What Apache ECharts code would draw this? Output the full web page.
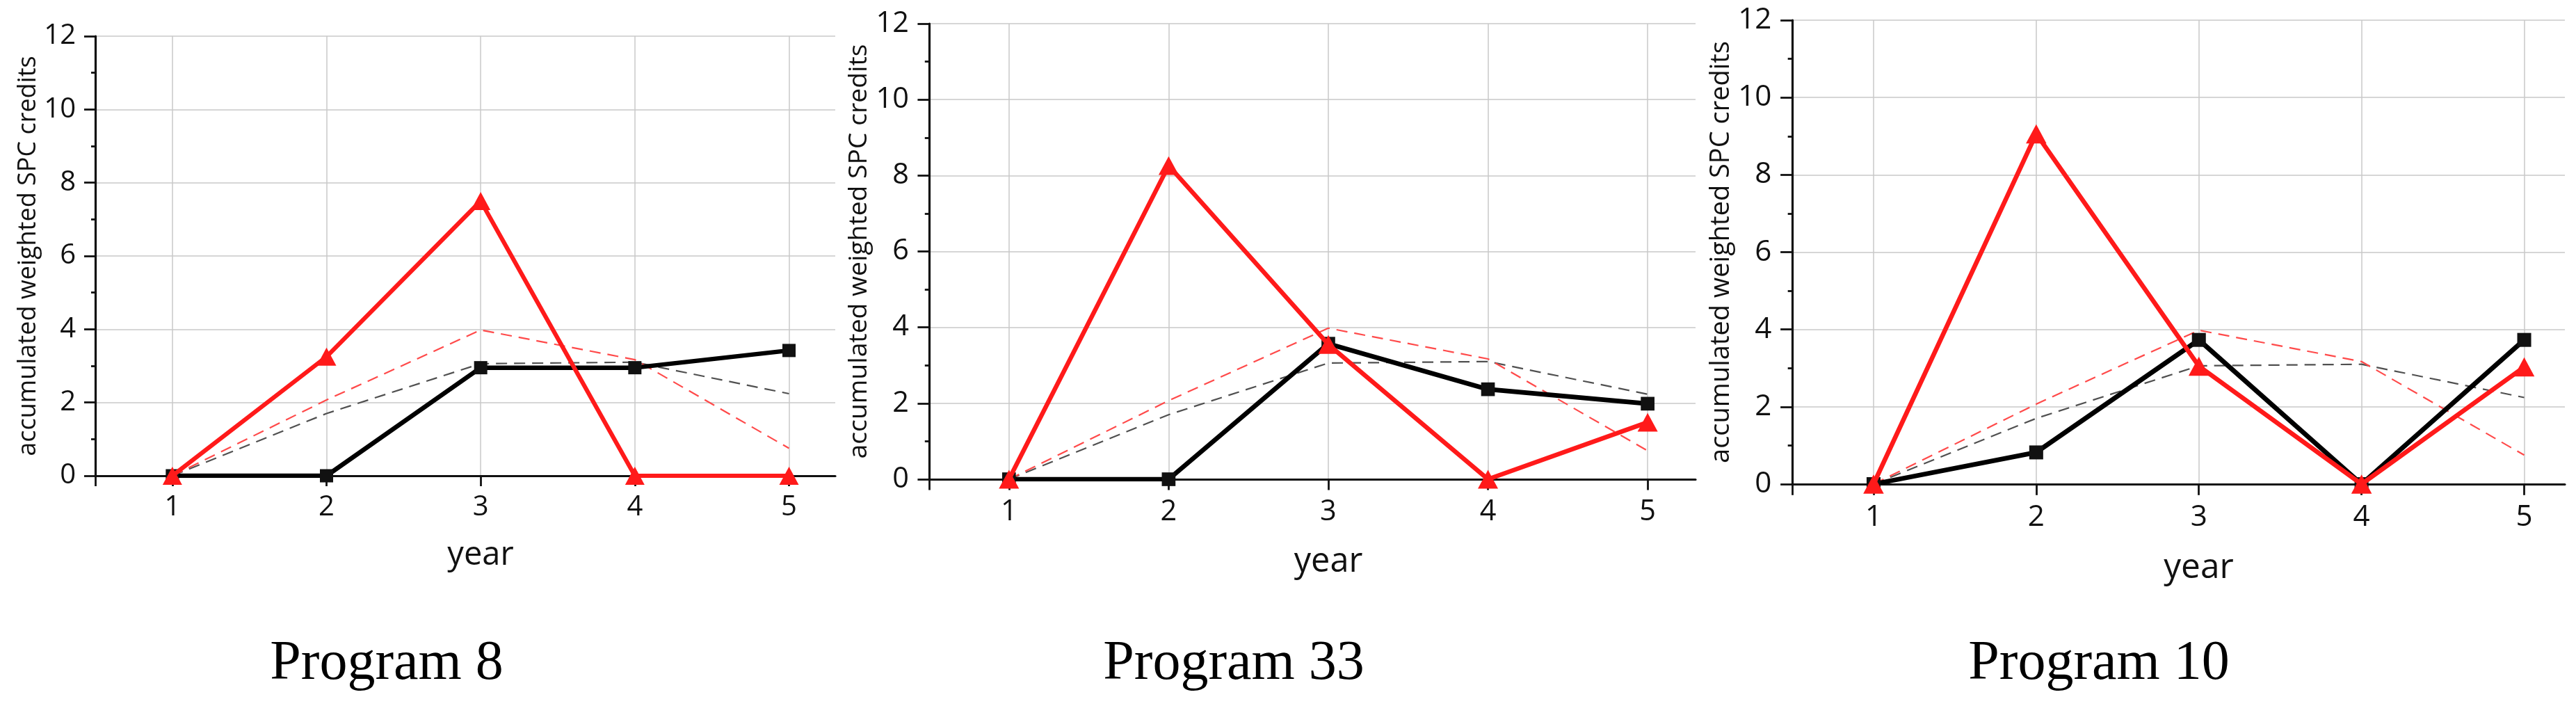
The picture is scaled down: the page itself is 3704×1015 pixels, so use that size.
<!DOCTYPE html>
<html><head><meta charset="utf-8">
<script src="https://cdn.jsdelivr.net/npm/echarts@6/dist/echarts.min.js"></script>
<style>html,body{margin:0;padding:0;background:#fff}#c{width:3704px;height:1015px}</style>
</head><body><div id="c"></div>
<script>
// ---- data ----
const years = [1, 2, 3, 4, 5];
const programs = ['Program 8', 'Program 33', 'Program 10'];
const black8 = [0, 0, 2.95, 2.95, 3.42];
const red8 = [0, 3.25, 7.5, 0, 0];
const black33 = [0, 0, 3.57, 2.37, 1.99];
const red33 = [0, 8.26, 3.55, 0, 1.5];
const black10 = [0, 0.82, 3.73, 0, 3.73];
const red10 = [0, 9.06, 3.05, 0, 3.03];
const avgBlack = [0, 1.7, 3.06, 3.1, 2.24];
const avgRed = [0, 2.07, 3.98, 3.17, 0.75];
const yMin = 0, yMax = 12, yStep = 2;
const xAxisTitle = 'year';
const yAxisTitle = 'accumulated weighted SPC credits';

// ---- layout / style ----
const FONT = '"Open Sans", "Noto Sans", sans-serif';
const panels = [
  {title: programs[0], black: black8, red: red8, grid: {left: 137, top: 52, width: 1064, height: 632}, xMax: 5.3, s: 1.0, titleX: 556, nameGap: 78, yearPad: 44},
  {title: programs[1], black: black33, red: red33, grid: {left: 1336, top: 34, width: 1102, height: 655}, xMax: 5.3, s: 1.036, titleX: 1774, nameGap: 82, yearPad: 46},
  {title: programs[2], black: black10, red: red10, grid: {left: 2577, top: 29, width: 1111, height: 667}, xMax: 5.25, s: 1.055, titleX: 3018, nameGap: 83, yearPad: 58}
];
const pts = arr => years.map((y, i) => [y, arr[i]]);

const grids = [], xAxes = [], yAxes = [], series = [], graphics = [];
panels.forEach((p, i) => {
  const s = p.s;
  grids.push(Object.assign({containLabel: false}, p.grid));
  xAxes.push({
    type: 'value', gridIndex: i, min: 0.5, max: p.xMax,
    name: xAxisTitle, nameLocation: 'middle', nameGap: 91 * s,
    nameTextStyle: {fontFamily: FONT, fontSize: 47 * s, color: '#111', padding: [0, 0, 0, p.yearPad]},
    axisLine: {show: true, onZero: false, lineStyle: {color: '#111', width: 3.2}},
    axisTick: {show: true, inside: false, length: 15 * s, lineStyle: {color: '#111', width: 2.8}, customValues: [0.5].concat(years)},
    axisLabel: {show: true, margin: 26 * s, fontFamily: FONT, fontSize: 40 * s, color: '#111', customValues: years},
    splitLine: {show: true, lineStyle: {color: '#c8c8c8', width: 1.5}},
    minorTick: {show: false}
  });
  yAxes.push({
    type: 'value', gridIndex: i, min: yMin, max: yMax, interval: yStep,
    name: yAxisTitle, nameLocation: 'middle', nameRotate: 90, nameGap: p.nameGap,
    nameTextStyle: {fontFamily: FONT, fontSize: 36 * s, color: '#111'},
    axisLine: {show: true, onZero: false, lineStyle: {color: '#111', width: 3.2}},
    axisTick: {show: true, inside: false, length: 16 * s, lineStyle: {color: '#111', width: 2.8}},
    minorTick: {show: true, splitNumber: 2, length: 6 * s, lineStyle: {color: '#111', width: 2.8}},
    axisLabel: {margin: 28 * s, fontFamily: FONT, fontSize: 40 * s, color: '#111'},
    splitLine: {show: true, lineStyle: {color: '#d6d6d6', width: 2}}
  });
  series.push({
    type: 'line', xAxisIndex: i, yAxisIndex: i, data: pts(avgBlack), symbol: 'none', z: 2,
    lineStyle: {color: '#505050', width: 2.2, type: [16, 10]}, silent: true, animation: false
  });
  series.push({
    type: 'line', xAxisIndex: i, yAxisIndex: i, data: pts(avgRed), symbol: 'none', z: 2,
    lineStyle: {color: '#ff4a4a', width: 2.2, type: [16, 10]}, silent: true, animation: false
  });
  series.push({
    type: 'line', xAxisIndex: i, yAxisIndex: i, data: pts(p.black), symbol: 'rect', symbolSize: 19 * s, z: 3,
    lineStyle: {color: '#000000', width: 6.5 * s}, itemStyle: {color: '#111111'}, animation: false
  });
  series.push({
    type: 'line', xAxisIndex: i, yAxisIndex: i, data: pts(p.red), symbol: 'triangle', symbolSize: [28 * s, 26 * s], z: 4,
    lineStyle: {color: '#ff1a1a', width: 6.2 * s}, itemStyle: {color: '#ff1a1a'}, animation: false
  });
  graphics.push({
    type: 'text', x: p.titleX, y: 955,
    style: {text: p.title, font: '80px "Liberation Serif", "Times New Roman", serif', fill: '#000', align: 'center', verticalAlign: 'middle'}
  });
});

const chart = echarts.init(document.getElementById('c'), null, {renderer: 'canvas'});
chart.setOption({
  backgroundColor: '#ffffff',
  animation: false,
  grid: grids, xAxis: xAxes, yAxis: yAxes, series: series,
  graphic: graphics
});
</script></body></html>
